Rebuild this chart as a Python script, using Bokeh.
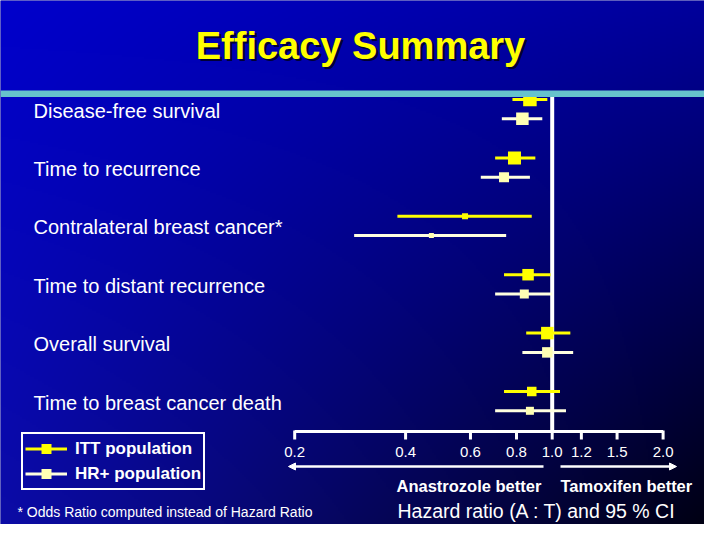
import numpy as np
from bokeh.plotting import figure
from bokeh.models import (ColumnDataSource, Range1d, Label, Legend, LegendItem,
                          BoxAnnotation, Arrow, NormalHead)
from bokeh.core.properties import value
from bokeh.embed import file_html
from bokeh.resources import INLINE

# ---------------- data ----------------
outcomes = ["Disease-free survival", "Time to recurrence", "Contralateral breast cancer*",
            "Time to distant recurrence", "Overall survival", "Time to breast cancer death"]
itt_hr = [0.87, 0.79, 0.58, 0.86, 0.97, 0.88]
itt_lo = [0.78, 0.70, 0.38, 0.74, 0.85, 0.74]
itt_hi = [0.97, 0.90, 0.88, 0.99, 1.12, 1.05]
hrp_hr = [0.83, 0.74, 0.47, 0.84, 0.97, 0.87]
hrp_lo = [0.73, 0.64, 0.29, 0.70, 0.83, 0.70]
hrp_hi = [0.94, 0.87, 0.75, 1.00, 1.14, 1.09]
tick_values = [0.2, 0.4, 0.6, 0.8, 1.0, 1.2, 1.5, 2.0]
tick_labels = ["0.2", "0.4", "0.6", "0.8", "1.0", "1.2", "1.5", "2.0"]
series_names = ["ITT population", "HR+ population"]

# ---------------- style ----------------
itt_size = [13.5, 13, 6, 11.5, 12.5, 9.5]
hrp_size = [12.5, 10, 5, 9, 10.5, 8]
ITT_LINE, ITT_FILL = "#FFFF00", "#FFFF00"
HRP_LINE, HRP_FILL = "#FFFFE0", "#FFFFB4"
FONT_NAME = "Liberation Sans"
FONT = value(FONT_NAME)

# pixel geometry of the slide (canvas shows px 0..704 x 0..524)
W, H = 704, 524
PX_ONE, PX_PER_LN = 551.7, 160.0
ROW0, ROW_STEP = 99.0, 58.4


def xv(px):
    return float(np.exp((px - PX_ONE) / PX_PER_LN))


def yv(py):
    return (ROW0 - py) / ROW_STEP


x0, x1 = xv(0), xv(W)
y0, y1 = yv(H), yv(0)

p = figure(width=W, height=H, x_axis_type="log",
           x_range=Range1d(x0, x1), y_range=Range1d(y0, y1),
           output_backend="svg", toolbar_location=None,
           x_axis_location=None, y_axis_location=None, min_border=0)
p.grid.visible = False
p.outline_line_color = None
p.background_fill_color = "#000090"
p.border_fill_color = "#000090"

# background gradient (bilinear between corner colours of the 720x540 slide)
nx, ny = 352, 262
u = np.linspace(0, W / 720, nx)[None, :]
v = np.linspace(0, H / 540, ny)[:, None]
blue = 204 * (1 - u) * (1 - v) + 155 * u * (1 - v) + 165 * (1 - u) * v + 12 * u * v
rg = 12 * v * (1 - u)
img = np.empty((ny, nx), dtype=np.uint32)
view = img.view(dtype=np.uint8).reshape((ny, nx, 4))
view[..., 0] = np.clip(rg, 0, 255).astype(np.uint8)
view[..., 1] = np.clip(rg, 0, 255).astype(np.uint8)
view[..., 2] = np.clip(blue, 0, 255).astype(np.uint8)
view[..., 3] = 255
img = img[::-1].copy()
p.image_rgba(image=[img], x=x0, y=y0, dw=x1 - x0, dh=y1 - y0)

# teal rule under title
p.add_layout(BoxAnnotation(top=yv(90), bottom=yv(96.5), fill_color="#66C2CC",
                           fill_alpha=1, line_alpha=0))

# title with shadow
p.add_layout(Label(x=xv(360), y=yv(45), x_offset=2.5, y_offset=-2.5, text="Efficacy Summary",
                   text_font=FONT_NAME, text_font_size="38px", text_font_style="bold",
                   text_color="#000020", text_alpha=0.85, text_align="center",
                   text_baseline="alphabetic"))
p.add_layout(Label(x=xv(360), y=yv(45), text="Efficacy Summary",
                   text_font=FONT_NAME, text_font_size="38px", text_font_style="bold",
                   text_color="#FFFF00", text_align="center", text_baseline="alphabetic"))

# reference line at HR = 1
p.segment(x0=[1.0], x1=[1.0], y0=[yv(96)], y1=[yv(432)], line_color="white",
          line_width=4)

# axis (drawn through the log scale)
p.segment(x0=[tick_values[0]], x1=[tick_values[-1]], y0=[yv(431)], y1=[yv(431)],
          line_color="white", line_width=3)
p.segment(x0=tick_values, x1=tick_values, y0=[yv(430)] * len(tick_values),
          y1=[yv(439)] * len(tick_values), line_color="white", line_width=3)
p.text(x=tick_values, y=[yv(451)] * len(tick_values), text=tick_labels,
       text_font=FONT, text_font_size="15px", text_color="white",
       text_align="center", text_baseline="middle")

# direction arrows
ya = yv(466)
p.add_layout(Arrow(x_start=xv(543), y_start=ya, x_end=xv(288), y_end=ya,
                   line_color="white", line_width=2.5, start=None,
                   end=NormalHead(size=7, fill_color="white", line_color="white")))
p.add_layout(Arrow(x_start=xv(560), y_start=ya, x_end=xv(676), y_end=ya,
                   line_color="white", line_width=2.5, start=None,
                   end=NormalHead(size=7, fill_color="white", line_color="white")))

for txt, px in (("Anastrozole better", 396), ("Tamoxifen better", 560)):
    p.add_layout(Label(x=xv(px), y=yv(485), text=txt, text_font=FONT_NAME,
                       text_font_size="16.5px", text_font_style="bold",
                       text_color="white", text_baseline="middle"))
p.add_layout(Label(x=xv(397), y=yv(510), text="Hazard ratio (A : T) and 95 % CI",
                   text_font=FONT_NAME, text_font_size="19.5px", text_color="white",
                   text_baseline="middle"))
p.add_layout(Label(x=xv(17), y=yv(511), text="* Odds Ratio computed instead of Hazard Ratio",
                   text_font=FONT_NAME, text_font_size="14px", text_color="white",
                   text_baseline="middle"))

# rows
n = len(outcomes)
row = [-float(k) for k in range(n)]
itt_y = row
hrp_y = [r - 19.3 / ROW_STEP for r in row]
lab_y = [r - 11.0 / ROW_STEP for r in row]

p.text(x=[xv(33)] * n, y=lab_y, text=outcomes, text_font=FONT,
       text_font_size="20px", text_color="white", text_align="left",
       text_baseline="middle")

src_itt = ColumnDataSource(dict(hr=itt_hr, lo=itt_lo, hi=itt_hi, y=itt_y, s=itt_size))
src_hrp = ColumnDataSource(dict(hr=hrp_hr, lo=hrp_lo, hi=hrp_hi, y=hrp_y, s=hrp_size))

seg_itt = p.segment(x0="lo", x1="hi", y0="y", y1="y", source=src_itt,
                    line_color=ITT_LINE, line_width=3)
seg_hrp = p.segment(x0="lo", x1="hi", y0="y", y1="y", source=src_hrp,
                    line_color=HRP_LINE, line_width=3)
sq_itt = p.scatter(x="hr", y="y", size="s", marker="square", source=src_itt,
                   fill_color=ITT_FILL, line_color=ITT_FILL, line_width=0)
sq_hrp = p.scatter(x="hr", y="y", size="s", marker="square", source=src_hrp,
                   fill_color=HRP_FILL, line_color=HRP_FILL, line_width=0)

legend = Legend(items=[LegendItem(label=series_names[0], renderers=[seg_itt, sq_itt]),
                       LegendItem(label=series_names[1], renderers=[seg_hrp, sq_hrp])],
                location=(21, H - 490), margin=0, padding=2, spacing=0,
                glyph_width=42, glyph_height=25, label_height=20, label_standoff=8,
                label_text_font=FONT_NAME, label_text_font_size="17px",
                label_text_font_style="bold", label_text_color="white",
                border_line_color="white", border_line_width=2, border_line_alpha=1,
                background_fill_alpha=0)
p.add_layout(legend)

open("out.html", "w").write(file_html(p, INLINE))
